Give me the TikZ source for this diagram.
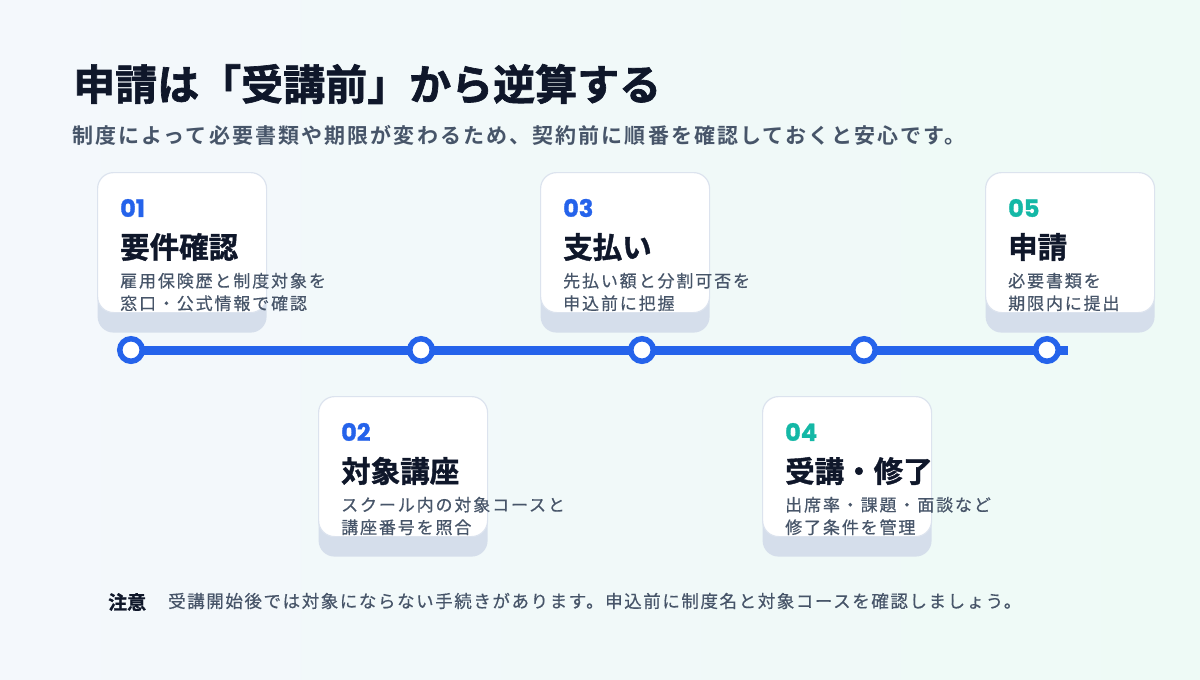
\documentclass[tikz,border=0pt]{standalone}
\usepackage{fontspec}
\setmainfont{Noto Sans CJK JP}[BoldFont={Noto Sans CJK JP Bold}]
\newfontfamily\numfont{Poppins}[BoldFont={Poppins Bold}]
\usetikzlibrary{shadows}
\definecolor{bgA}{HTML}{F4F8FC}
\definecolor{bgB}{HTML}{EEFAF6}
\definecolor{ink}{HTML}{0F172A}
\definecolor{muted}{HTML}{475569}
\definecolor{blue}{HTML}{2563EB}
\definecolor{teal}{HTML}{14B8A6}
\definecolor{cardline}{HTML}{DCE3EE}
\definecolor{cardshade}{HTML}{D5DEEB}
\tikzset{
  x=1pt, y=-1pt,
  card/.style={draw=cardline, line width=1.2pt, fill=white, rounded corners=16pt,
    minimum width=169pt, minimum height=140pt, anchor=north west, inner sep=0pt,
    drop shadow={shadow xshift=0pt, shadow yshift=-20pt, fill=cardshade, opacity=1}},
  numtxt/.style={anchor=west, inner sep=0pt, font=\numfont\fontsize{24}{26}\bfseries\selectfont\addfontfeature{FakeBold=1.2}},
  steptitle/.style={anchor=west, inner sep=0pt, text=ink, font=\fontsize{29.5}{34}\bfseries\selectfont\addfontfeature{FakeBold=1.3}},
  stepdesc/.style={anchor=west, inner sep=0pt, text=muted, align=left,
    font=\fontsize{17}{22.5}\selectfont\addfontfeature{LetterSpace=11,FakeBold=0.5}},
  dot/.style={circle, draw=blue, line width=5.5pt, fill=white, minimum size=22.5pt, inner sep=0pt},
  rail/.style={draw=blue, line width=9pt},
}
\begin{document}
\begin{tikzpicture}
\useasboundingbox (0,0) rectangle (1200,680);
\shade[left color=bgA, right color=bgB] (0,0) rectangle (1200,680);

% heading
\node[anchor=west, inner sep=0pt, text=ink, font=\fontsize{42}{48}\bfseries\selectfont\addfontfeature{FakeBold=1.6}] (title) at (73,84) {申請は「受講前」から逆算する};
\node[anchor=west, inner sep=0pt, text=muted, font=\fontsize{21}{24}\bfseries\selectfont\addfontfeature{LetterSpace=10}] (subtitle) at (72,135) {制度によって必要書類や期限が変わるため、契約前に順番を確認しておくと安心です。};

% timeline
\coordinate (p1) at (131,350);
\coordinate (p2) at (421,350);
\coordinate (p3) at (642,350);
\coordinate (p4) at (864,350);
\coordinate (p5) at (1047,350);
\coordinate (railend) at (1068,350);
\draw[rail] (p1) -- (railend);
\node[dot] (d1) at (p1) {};
\node[dot] (d2) at (p2) {};
\node[dot] (d3) at (p3) {};
\node[dot] (d4) at (p4) {};
\node[dot] (d5) at (p5) {};

% cards
\node[card] (c1) at (97,172) {};
\node[card] (c2) at (318,396) {};
\node[card] (c3) at (540,172) {};
\node[card] (c4) at (762,396) {};
\node[card] (c5) at (985,172) {};

% card 1
\node[numtxt, text=blue] (n1) at (120,208) {01};
\node[steptitle] (t1) at (120,247) {要件確認};
\node[stepdesc] (s1) at (120,292) {雇用保険歴と制度対象を\\窓口・公式情報で確認};
% card 2
\node[numtxt, text=blue] (n2) at (341,432) {02};
\node[steptitle] (t2) at (341,471) {対象講座};
\node[stepdesc] (s2) at (341,516) {スクール内の対象コースと\\講座番号を照合};
% card 3
\node[numtxt, text=blue] (n3) at (563,208) {03};
\node[steptitle] (t3) at (563,247) {支払い};
\node[stepdesc] (s3) at (563,292) {先払い額と分割可否を\\申込前に把握};
% card 4
\node[numtxt, text=teal] (n4) at (785,432) {04};
\node[steptitle] (t4) at (785,471) {受講・修了};
\node[stepdesc] (s4) at (785,516) {出席率・課題・面談など\\修了条件を管理};
% card 5
\node[numtxt, text=teal] (n5) at (1008,208) {05};
\node[steptitle] (t5) at (1008,247) {申請};
\node[stepdesc] (s5) at (1008,292) {必要書類を\\期限内に提出};

% note
\node[anchor=west, inner sep=0pt, text=ink, font=\fontsize{19}{22}\bfseries\selectfont\addfontfeature{FakeBold=1}] (notehead) at (108,602) {注意};
\node[anchor=west, inner sep=0pt, text=muted, font=\fontsize{17.5}{22}\selectfont\addfontfeature{LetterSpace=9,FakeBold=0.5}] (notetext) at (168,601) {受講開始後では対象にならない手続きがあります。申込前に制度名と対象コースを確認しましょう。};
\end{tikzpicture}
\end{document}
